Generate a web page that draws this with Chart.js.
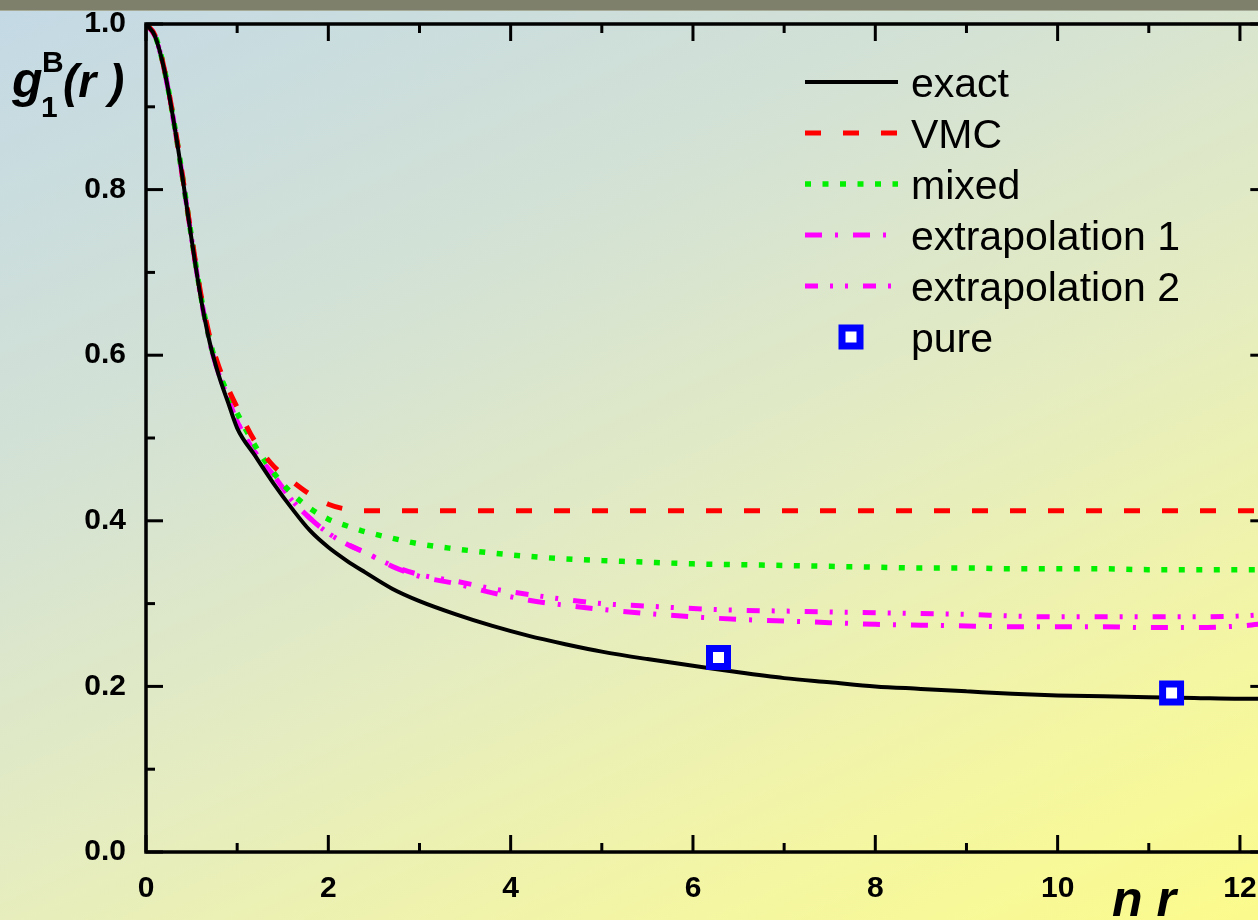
<!DOCTYPE html>
<html>
<head>
<meta charset="utf-8">
<script src="https://cdn.jsdelivr.net/npm/chart.js@4.4.0/dist/chart.umd.min.js"></script>
<style>
html, body { margin: 0; padding: 0; width: 1258px; height: 920px; overflow: hidden; }
body {
    position: relative;
    background: linear-gradient(155deg, #c3d9e5 0%, #d4e2d4 33%, #e5ecc0 58%, #f4f6a2 82%, #fbfb8c 100%);
}
#wrap { position: absolute; left: 0; top: -14px; width: 1287px; height: 934px; }
#bar { position: absolute; left: 0; top: 0; width: 100%; height: 10px; background: #7e806b; border-bottom: 1px solid #a6ab97; }
</style>
</head>
<body>
<div id="wrap"><canvas id="graficaG1" width="1287" height="934"></canvas></div>
<div id="bar"></div>
<script>
// n r
var r = [0, 0.1, 0.2, 0.3, 0.4, 0.5, 0.6, 0.7, 0.8, 0.9, 1.0, 1.2, 1.4, 1.6, 1.8, 2.0, 2.2, 2.4, 2.7, 3.0,
         3.4, 3.8, 4.2, 4.6, 5.0, 5.5, 6.0, 6.5, 7.0, 7.5, 8.0, 8.5, 9.0, 9.5, 10.0, 10.5, 11.0, 11.5, 12.0, 12.3];

var exact = [1.0, 0.985, 0.945, 0.885, 0.815, 0.74, 0.67, 0.615, 0.575, 0.543, 0.512, 0.478, 0.445, 0.415, 0.388, 0.368, 0.352, 0.338, 0.318, 0.303,
             0.287, 0.273, 0.261, 0.251, 0.242, 0.233, 0.225, 0.217, 0.210, 0.205, 0.200, 0.197, 0.194, 0.191, 0.189, 0.188, 0.187, 0.186, 0.185, 0.185];

var vmc = [1.0, 0.986, 0.946, 0.887, 0.817, 0.743, 0.675, 0.622, 0.586, 0.56, 0.537, 0.495, 0.466, 0.448, 0.432, 0.42, 0.414, 0.412, 0.412, 0.412,
           0.412, 0.412, 0.412, 0.412, 0.412, 0.412, 0.412, 0.412, 0.412, 0.412, 0.412, 0.412, 0.412, 0.412, 0.412, 0.412, 0.412, 0.412, 0.412, 0.412];

var mixed = [1.0, 0.986, 0.946, 0.886, 0.816, 0.742, 0.673, 0.618, 0.58, 0.553, 0.53, 0.49, 0.458, 0.433, 0.415, 0.402, 0.394, 0.387, 0.379, 0.372,
             0.366, 0.361, 0.357, 0.354, 0.352, 0.35, 0.348, 0.347, 0.346, 0.345, 0.344, 0.343, 0.343, 0.342, 0.342, 0.342, 0.341, 0.341, 0.341, 0.341];

var extrap1 = [1.0, 0.985, 0.945, 0.885, 0.815, 0.741, 0.671, 0.615, 0.577, 0.548, 0.52, 0.482, 0.455, 0.425, 0.403, 0.385, 0.372, 0.362, 0.345, 0.333,
               0.324, 0.313, 0.304, 0.298, 0.293, 0.288, 0.284, 0.281, 0.279, 0.277, 0.275, 0.274, 0.273, 0.272, 0.272, 0.272, 0.271, 0.271, 0.273, 0.276];

var extrap2 = [1.0, 0.985, 0.945, 0.885, 0.815, 0.741, 0.671, 0.615, 0.577, 0.548, 0.52, 0.482, 0.455, 0.425, 0.403, 0.385, 0.372, 0.362, 0.346, 0.335,
               0.327, 0.318, 0.311, 0.305, 0.300, 0.297, 0.294, 0.292, 0.291, 0.290, 0.289, 0.288, 0.287, 0.285, 0.284, 0.284, 0.284, 0.284, 0.285, 0.287];

var rPure = [6.28, 11.25];
var pure = [0.235, 0.192];

var xMajor = [0, 2, 4, 6, 8, 10, 12];
var xMinor = [1, 3, 5, 7, 9, 11];
var yMajor = [0, 0.2, 0.4, 0.6, 0.8, 1.0];
var yMinor = [0.1, 0.3, 0.5, 0.7, 0.9];
var yTickLabels = ['0.0', '0.2', '0.4', '0.6', '0.8', '1.0'];
var xTickLabels = ['0', '2', '4', '6', '8', '10', '12'];

var legendLabels = ['exact', 'VMC', 'mixed', 'extrapolation 1', 'extrapolation 2', 'pure'];

function puntos(xs, ys) {
    return xs.map(function(x, i) { return {x: x, y: ys[i]}; });
}

var FUENTE = '"Liberation Sans", Arial, sans-serif';
var OY = 14; // el canvas empieza 14px por encima de la ventana

var marcoEjes = {
    id: 'marcoEjes',
    afterDraw: function(chart) {
        var ctx = chart.ctx, a = chart.chartArea;
        var sx = chart.scales.x, sy = chart.scales.y;
        ctx.save();
        ctx.setLineDash([]);
        ctx.strokeStyle = '#000';
        ctx.lineWidth = 3.5;
        ctx.strokeRect(a.left, a.top, a.right - a.left, a.bottom - a.top);
        ctx.lineWidth = 3;
        function linea(x1, y1, x2, y2) {
            ctx.beginPath(); ctx.moveTo(x1, y1); ctx.lineTo(x2, y2); ctx.stroke();
        }
        xMajor.forEach(function(v) {
            var p = sx.getPixelForValue(v);
            linea(p, a.bottom, p, a.bottom - 17);
            linea(p, a.top, p, a.top + 17);
        });
        xMinor.forEach(function(v) {
            var p = sx.getPixelForValue(v);
            linea(p, a.bottom, p, a.bottom - 9);
            linea(p, a.top, p, a.top + 9);
        });
        yMajor.forEach(function(v) {
            var p = sy.getPixelForValue(v);
            linea(a.left, p, a.left + 17, p);
            linea(a.right, p, a.right - 17, p);
        });
        yMinor.forEach(function(v) {
            var p = sy.getPixelForValue(v);
            linea(a.left, p, a.left + 9, p);
            linea(a.right, p, a.right - 9, p);
        });

        // leyenda
        chart.data.datasets.forEach(function(ds, i) {
            var yl = 82 + 51 * i + OY;
            if (ds.showLine === false) {
                ctx.setLineDash([]);
                ctx.fillStyle = ds.pointBackgroundColor;
                ctx.strokeStyle = ds.pointBorderColor;
                ctx.lineWidth = ds.pointBorderWidth;
                ctx.fillRect(851 - 9, yl - 9, 18, 18);
                ctx.strokeRect(851 - 9, yl - 9, 18, 18);
            } else {
                ctx.setLineDash(ds.borderDash || []);
                ctx.strokeStyle = ds.borderColor;
                ctx.lineWidth = ds.borderWidth;
                ctx.lineCap = 'butt';
                linea(805, yl, 898, yl);
            }
            ctx.setLineDash([]);
            ctx.fillStyle = '#000';
            ctx.font = '41px ' + FUENTE;
            ctx.textBaseline = 'alphabetic';
            ctx.textAlign = 'left';
            ctx.fillText(legendLabels[i], 911, yl + 14.5);
        });

        // titulos de ejes
        ctx.fillStyle = '#000';
        ctx.textBaseline = 'alphabetic';
        ctx.font = 'italic bold 50px ' + FUENTE;
        ctx.fillText('g', 12, 97 + OY);
        ctx.font = 'bold 30px ' + FUENTE;
        ctx.fillText('1', 41, 117 + OY);
        ctx.fillText('B', 42, 72 + OY);
        ctx.font = 'italic bold 46px ' + FUENTE;
        ctx.fillText('(r )', 63, 97 + OY);
        ctx.font = 'italic bold 50px ' + FUENTE;
        ctx.fillText('n r', 1112, 916 + OY);
        ctx.restore();
    }
};

document.addEventListener("DOMContentLoaded", function() {
    var ctx = document.getElementById("graficaG1").getContext("2d");
    var grafica = new Chart(ctx, {
        type: 'line',
        data: {
            datasets: [{
                label: 'exact',
                data: puntos(r, exact),
                borderColor: '#000000',
                borderWidth: 4,
                pointRadius: 0,
                cubicInterpolationMode: 'monotone'
            }, {
                label: 'VMC',
                data: puntos(r, vmc),
                borderColor: '#ff0000',
                borderWidth: 5,
                borderDash: [16, 22],
                pointRadius: 0,
                cubicInterpolationMode: 'monotone'
            }, {
                label: 'mixed',
                data: puntos(r, mixed),
                borderColor: '#00f000',
                borderWidth: 5.5,
                borderDash: [6, 11.5],
                pointRadius: 0,
                cubicInterpolationMode: 'monotone'
            }, {
                label: 'extrapolation 1',
                data: puntos(r, extrap1),
                borderColor: '#ff00ff',
                borderWidth: 5,
                borderDash: [17, 13, 3, 15],
                pointRadius: 0,
                cubicInterpolationMode: 'monotone'
            }, {
                label: 'extrapolation 2',
                data: puntos(r, extrap2),
                borderColor: '#ff00ff',
                borderWidth: 5,
                borderDash: [13, 12, 3, 12, 3, 15],
                pointRadius: 0,
                cubicInterpolationMode: 'monotone'
            }, {
                label: 'pure',
                data: puntos(rPure, pure),
                showLine: false,
                pointStyle: 'rect',
                pointRadius: 12.7,
                pointBorderWidth: 7,
                pointBackgroundColor: '#ffffff',
                pointBorderColor: '#0000ff',
                order: -1
            }]
        },
        options: {
            responsive: false,
            animation: false,
            events: [],
            layout: {
                padding: 0
            },
            plugins: {
                legend: {display: false},
                tooltip: {enabled: false}
            },
            scales: {
                x: {
                    type: 'linear',
                    min: 0,
                    max: 12.3,
                    grid: {display: false, drawTicks: false},
                    border: {display: false},
                    afterBuildTicks: function(s) {
                        s.ticks = xMajor.map(function(v) { return {value: v}; });
                    },
                    afterFit: function(s) { s.height = 68; },
                    ticks: {
                        padding: 19,
                        color: '#000',
                        font: {family: FUENTE, size: 30, weight: 'bold'},
                        maxRotation: 0,
                        callback: function(v, i) { return xTickLabels[i]; }
                    }
                },
                y: {
                    min: 0,
                    max: 1.0,
                    grid: {display: false, drawTicks: false},
                    border: {display: false},
                    afterBuildTicks: function(s) {
                        s.ticks = yMajor.map(function(v) { return {value: v}; });
                    },
                    afterFit: function(s) { s.width = 146; },
                    ticks: {
                        padding: 20,
                        color: '#000',
                        font: {family: FUENTE, size: 30, weight: 'bold'},
                        callback: function(v, i) { return yTickLabels[i]; }
                    }
                }
            }
        },
        plugins: [marcoEjes]
    });
});
</script>
</body>
</html>
